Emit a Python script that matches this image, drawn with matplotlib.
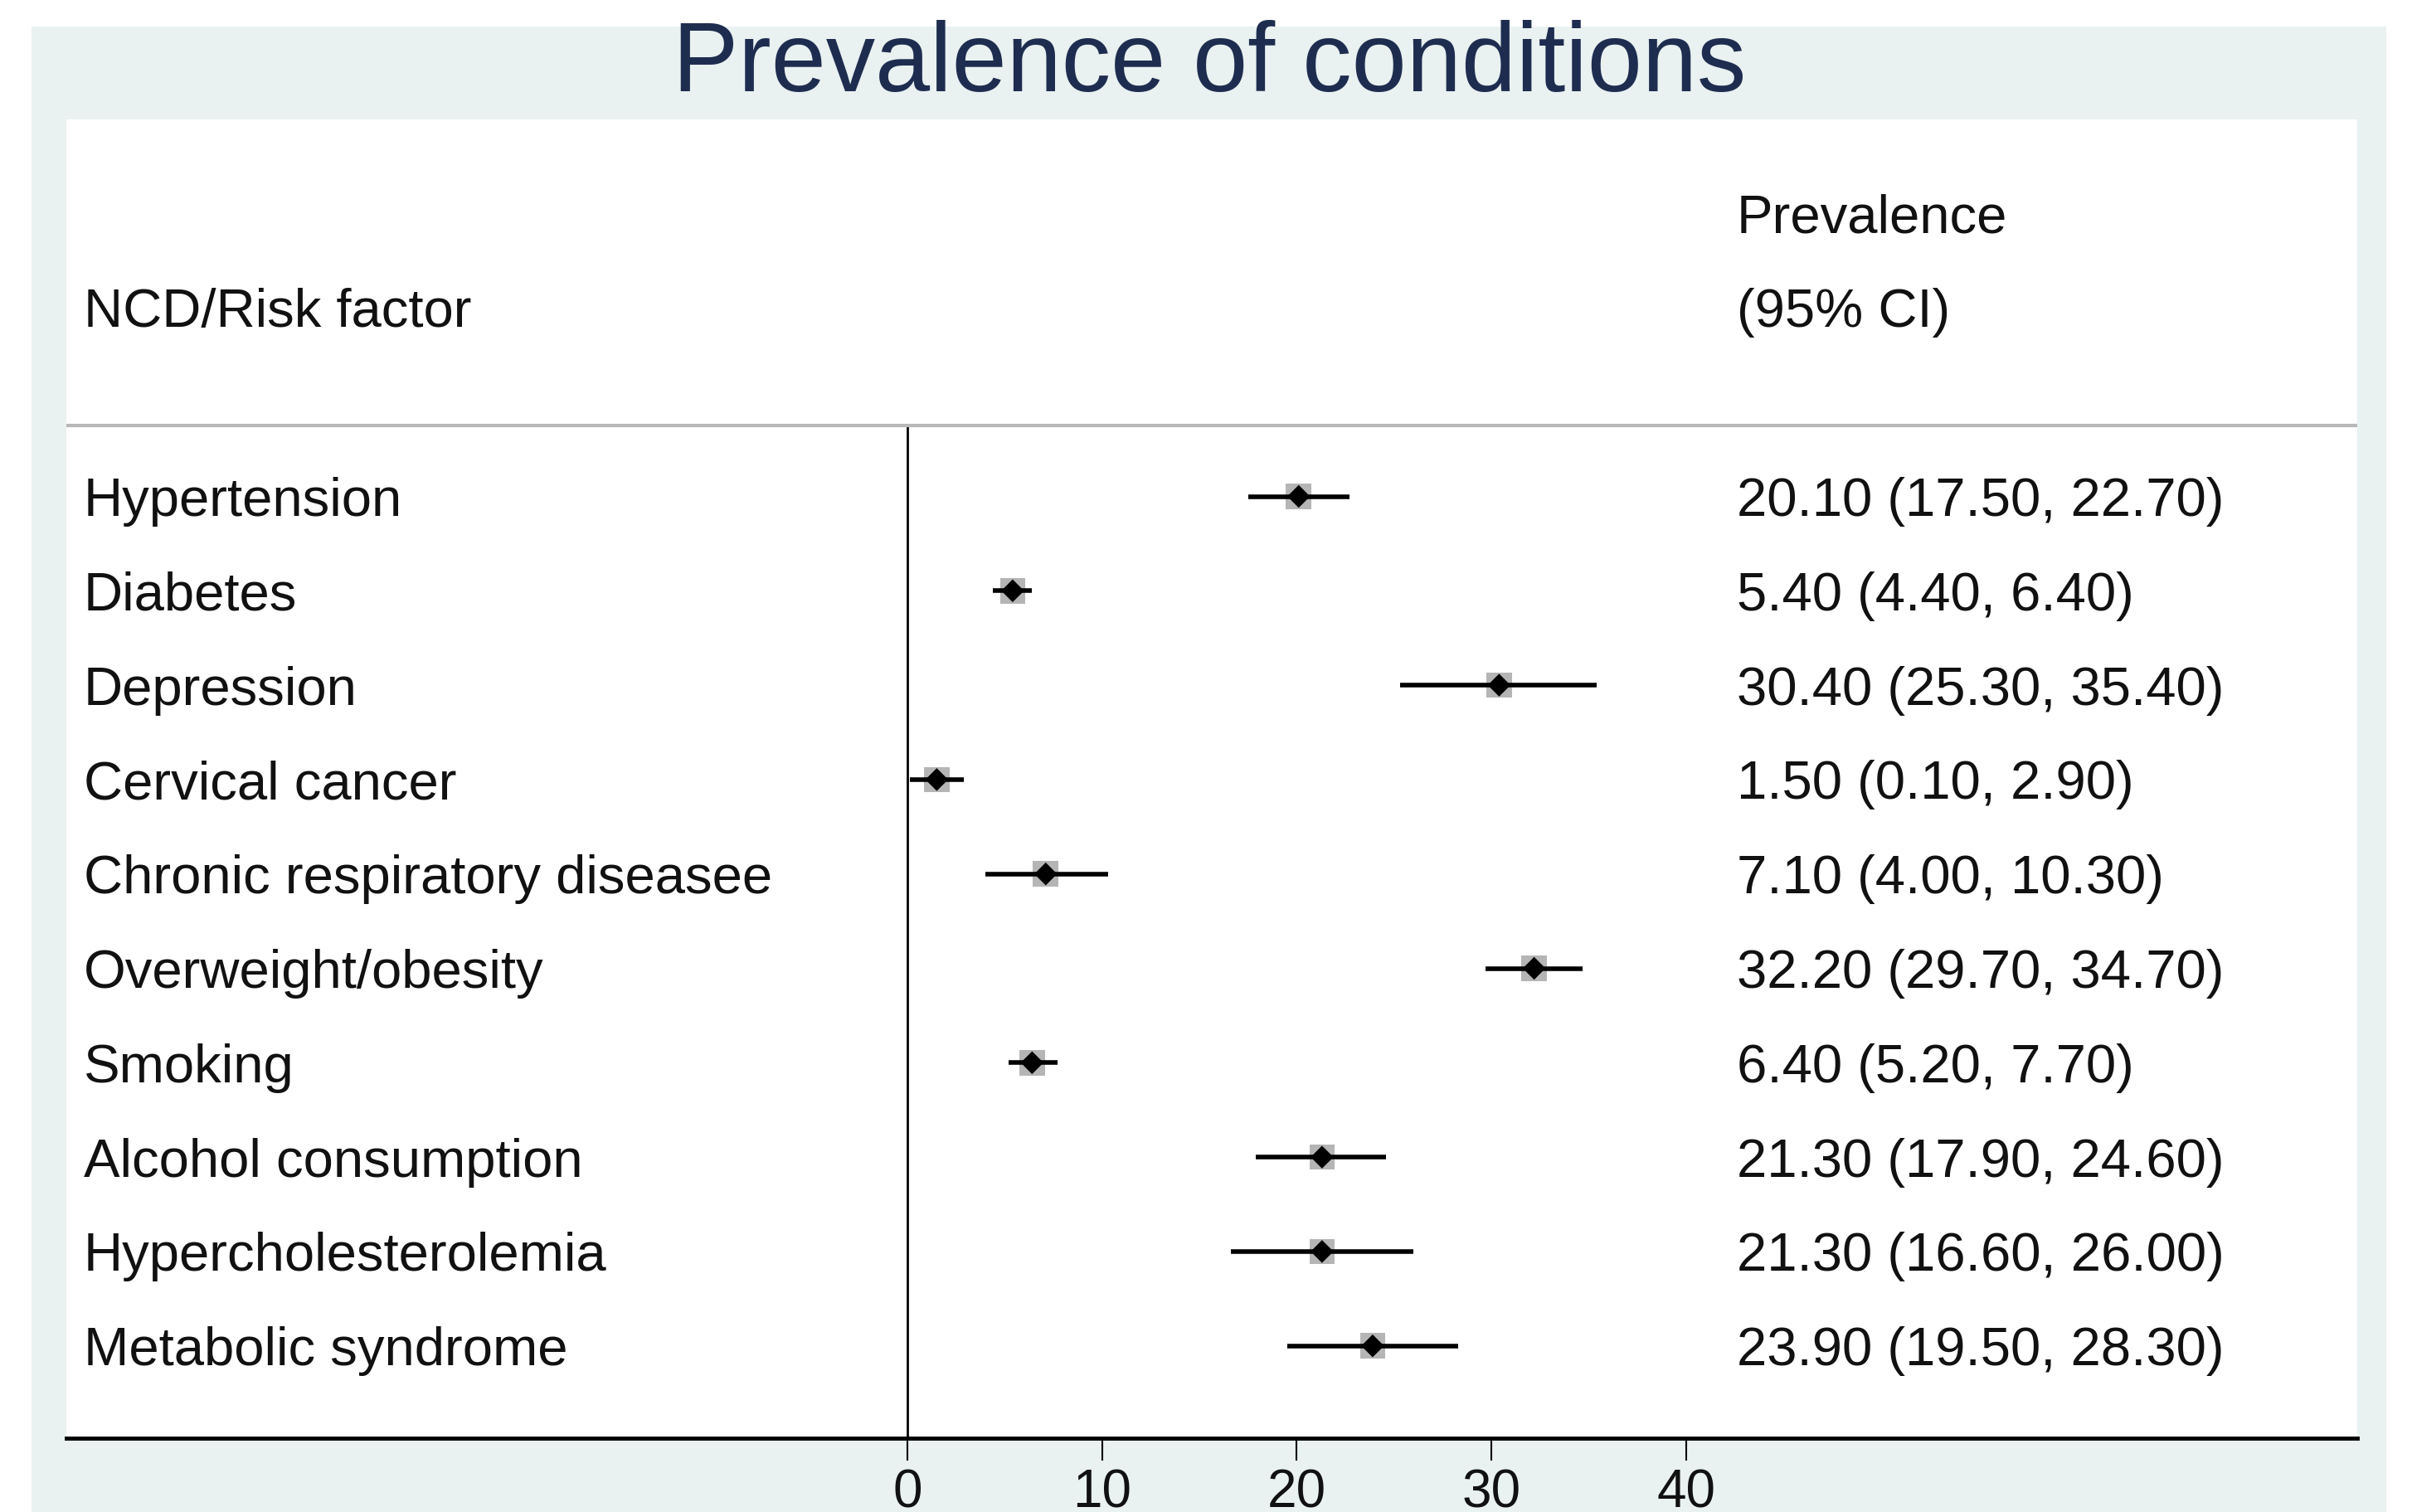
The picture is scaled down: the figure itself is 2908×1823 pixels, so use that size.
import matplotlib
matplotlib.use("Agg")
import matplotlib.pyplot as plt
from matplotlib.patches import Rectangle
from matplotlib import transforms

plt.rcParams['font.family'] = ['Liberation Sans', 'DejaVu Sans']

# ---- data ----
conditions = ["Hypertension", "Diabetes", "Depression", "Cervical cancer",
              "Chronic respiratory diseasee", "Overweight/obesity", "Smoking",
              "Alcohol consumption", "Hypercholesterolemia", "Metabolic syndrome"]
prevalence = [20.10, 5.40, 30.40, 1.50, 7.10, 32.20, 6.40, 21.30, 21.30, 23.90]
ci_low = [17.50, 4.40, 25.30, 0.10, 4.00, 29.70, 5.20, 17.90, 16.60, 19.50]
ci_high = [22.70, 6.40, 35.40, 2.90, 10.30, 34.70, 7.70, 24.60, 26.00, 28.30]
xticks = [0, 10, 20, 30, 40]

W, H = 2908, 1824
fig = plt.figure(figsize=(W / 100, H / 100), dpi=100)
fig.patch.set_facecolor("white")

# pixel (top-left origin) -> figure transform
pix = transforms.Affine2D().scale(1 / W, -1 / H).translate(0, 1) + fig.transFigure

# outer graph region (light bluish gray)
bg = Rectangle((38 / W, 0), (2877 - 38) / W, 1 - 33 / H,
               transform=fig.transFigure, facecolor="#e9f1f1",
               edgecolor="none", zorder=-10)
fig.add_artist(bg)

# plot region in pixels
x0, x1 = 80, 2842
y_top, y_bot = 145, 1735
ax = fig.add_axes([x0 / W, 1 - y_bot / H, (x1 - x0) / W, (y_bot - y_top) / H])
ax.set_zorder(1)
ax.set_facecolor("white")

px_per_unit = 23.46
zero_px = 1094.2
ax.set_xlim((x0 - zero_px) / px_per_unit, (x1 - zero_px) / px_per_unit)

row_px0, row_step = 599.5, 113.8
ax.set_ylim((y_bot - row_px0) / row_step + 1, (y_top - row_px0) / row_step + 1)

rows = list(range(1, len(conditions) + 1))
header_line_y = 0.25

# CI lines
ax.hlines(rows, ci_low, ci_high, color="black", lw=4.0, zorder=3)
# weight boxes
ax.scatter(prevalence, rows, marker="s", s=22 ** 2, color="#b5b5b5", zorder=2,
           edgecolors="none")
# point estimates
ax.scatter(prevalence, rows, marker="D", s=14 ** 2, color="black", zorder=4,
           edgecolors="none")

# zero line
ax.vlines(0, header_line_y, ax.get_ylim()[0], color="black", lw=2.0, zorder=1)
# header separator
ax.axhline(header_line_y, color="#b8b8b8", lw=3.0, zorder=1)

fs = 47
txtc = "#111111"
cap_half_pt = 0.688 * fs / 2.0
row_tr = transforms.blended_transform_factory(pix, ax.transData)
row_tr = transforms.offset_copy(row_tr, fig=fig, x=0, y=-cap_half_pt, units="points")

label_px = 101
val_px = 2094
for r, name, p, lo, hi in zip(rows, conditions, prevalence, ci_low, ci_high):
    ax.text(label_px, r, name, fontsize=fs, va="baseline", ha="left",
            color=txtc, transform=row_tr)
    ax.text(val_px, r, f"{p:.2f} ({lo:.2f}, {hi:.2f})", fontsize=fs,
            va="baseline", ha="left", color=txtc, transform=row_tr)

ax.text(label_px, -1.0, "NCD/Risk factor", fontsize=fs, va="baseline", ha="left",
        color=txtc, transform=row_tr)
ax.text(val_px, -2.0, "Prevalence", fontsize=fs, va="baseline", ha="left",
        color=txtc, transform=row_tr)
ax.text(val_px, -1.0, "(95% CI)", fontsize=fs, va="baseline", ha="left",
        color=txtc, transform=row_tr)

# axes styling
for s in ["top", "left", "right"]:
    ax.spines[s].set_visible(False)
ax.spines["bottom"].set_linewidth(3.5)
ax.spines["bottom"].set_color("black")
ax.set_yticks([])
ax.set_xticks(xticks)
ax.set_xticklabels([str(t) for t in xticks], fontsize=fs - 1, color=txtc)
ax.tick_params(axis="x", direction="out", length=19.5, width=1.5, pad=6)

fig.text(1458, 110, "Prevalence of conditions", fontsize=85.5,
         ha="center", va="baseline", color="#1e2d4f", transform=pix)

fig.savefig("out.png", dpi=100)
